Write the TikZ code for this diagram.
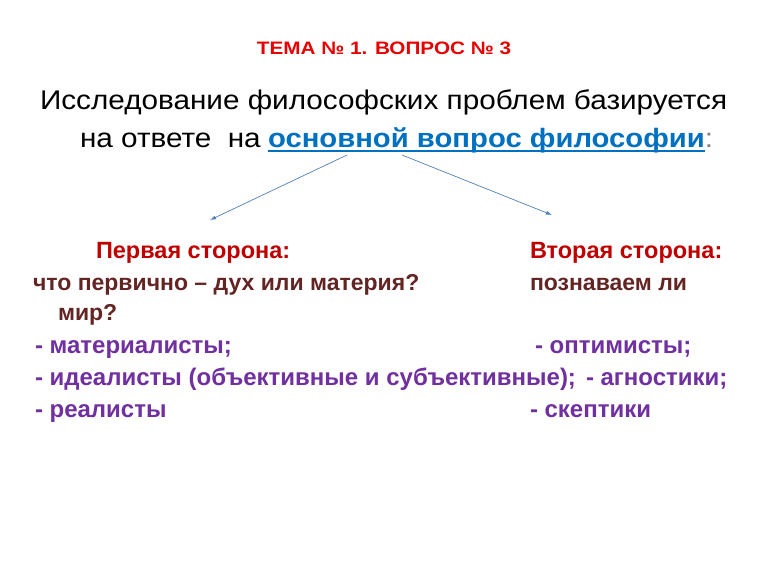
\documentclass[tikz,border=0pt]{standalone}
\usepackage{fontspec}
\usetikzlibrary{arrows.meta}
\setmainfont{Liberation Sans}
\newfontfamily\leadfont[FakeStretch=1.1]{Liberation Sans}
\newfontfamily\titlefont[FakeStretch=1.15]{Liberation Sans}
\definecolor{titlered}{RGB}{230,0,0}
\definecolor{sidered}{RGB}{192,0,0}
\definecolor{qbrown}{RGB}{99,37,35}
\definecolor{itempurple}{RGB}{112,48,160}
\definecolor{linkblue}{RGB}{0,112,192}
\definecolor{arrowblue}{RGB}{79,129,189}
\begin{document}
\begin{tikzpicture}[x=1pt,y=-1pt,
    every node/.style={inner sep=0pt,outer sep=0pt},
    lead/.style={anchor=base west,font=\leadfont\fontsize{27}{32}\selectfont},
    side/.style={anchor=base west,text=sidered,font=\fontsize{23.5}{28}\selectfont\bfseries},
    quest/.style={anchor=base west,text=qbrown,font=\fontsize{23}{28}\selectfont\bfseries},
    item/.style={anchor=base west,text=itempurple,font=\fontsize{24}{28}\selectfont\bfseries},
    branch/.style={-{Latex[length=6pt,width=4pt]},arrowblue,line width=0.7pt}]
    \useasboundingbox[fill=white] (0,0) rectangle (768,576);

    % title
    \node[anchor=base,text=titlered,font=\titlefont\fontsize{18}{20}\selectfont\bfseries] (title) at (384,54) {ТЕМА № 1. ВОПРОС № 3};

    % main question
    \node[lead] (lead) at (40,109) {Исследование философских проблем базируется};
    \node[lead] (answer) at (80,147) {на ответе\ \ на};
    \node[lead,text=linkblue,font=\leadfont\fontsize{26.6}{32}\selectfont\bfseries] (basic) at (268,147) {основной вопрос философии};
    \node[lead,text=gray] (colon) at (basic.base east) {:};
    \draw[linkblue,line width=1.8pt] ([yshift=-4pt]basic.base west) -- ([yshift=-4pt]basic.base east);

    % arrows
    \coordinate (fromL) at (347,155);
    \coordinate (fromR) at (402,155);
    \coordinate (toL) at (210,220);
    \coordinate (toR) at (552,215);
    \draw[branch] (fromL) -- (toL);
    \draw[branch] (fromR) -- (toR);

    % first side
    \node[side] (first) at (96,258) {Первая сторона:};
    \node[quest] (firstq) at (33,290) {что первично – дух или материя?};
    \node[quest] (firstq2) at (58,320) {мир?};
    \node[item] (mat) at (35,353) {- материалисты;};
    \node[item] (ideal) at (35,385) {- идеалисты (объективные и субъективные);};
    \node[item] (real) at (35,417) {- реалисты};

    % second side
    \node[side] (second) at (530,258) {Вторая сторона:};
    \node[quest] (secondq) at (530,290) {познаваем ли};
    \node[item] (opt) at (535,353) {- оптимисты;};
    \node[item] (agn) at (586,385) {- агностики;};
    \node[item] (skep) at (530,417) {- скептики};
\end{tikzpicture}
\end{document}
